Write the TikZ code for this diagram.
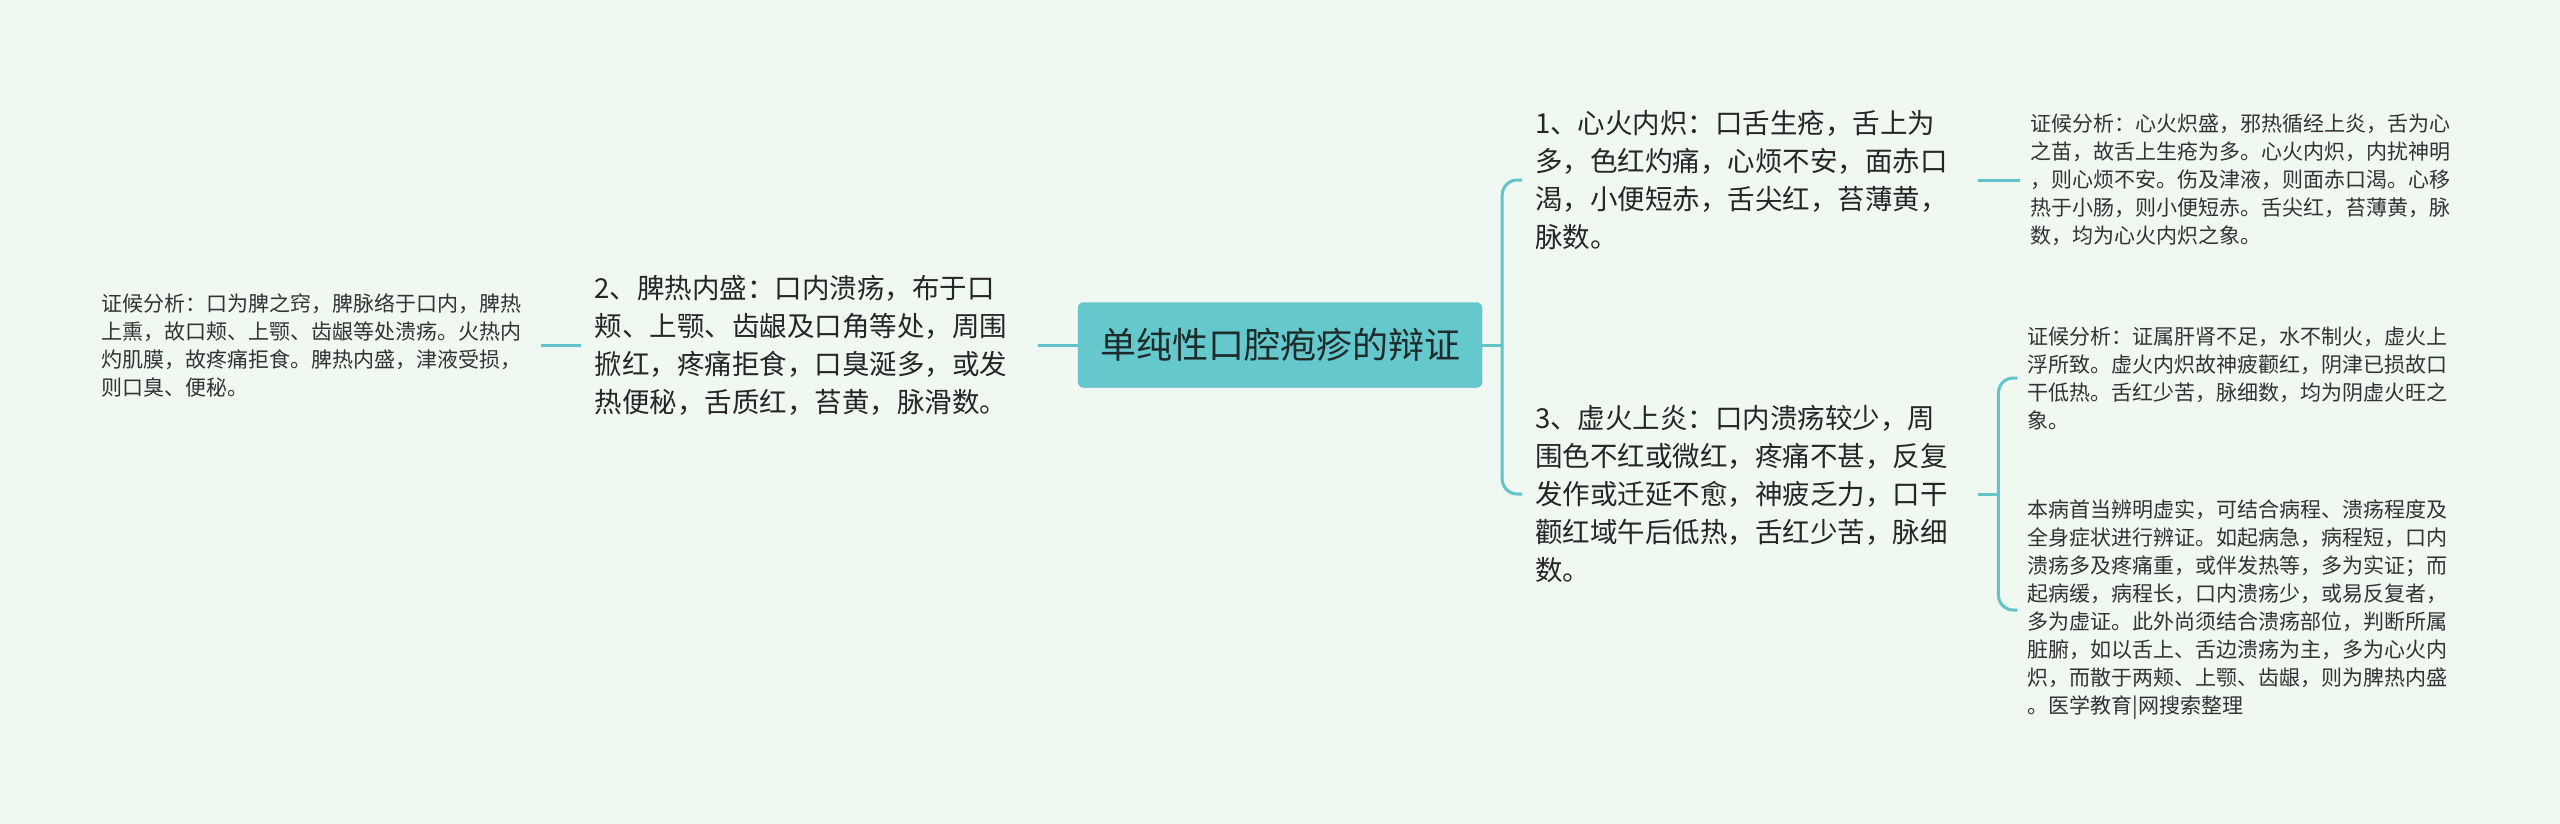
\documentclass[tikz,border=0pt]{standalone}
\usepackage{fontspec}
\setmainfont{Noto Sans CJK SC}
\usepackage{xcolor}
\usetikzlibrary{positioning}

\definecolor{bgmint}{HTML}{EFF8F1}
\definecolor{teal}{HTML}{64C8CC}
\definecolor{tealline}{HTML}{62C4C9}
\definecolor{inkdark}{HTML}{1E2B2B}
\definecolor{inkgray}{HTML}{333333}

\begin{document}
\begin{tikzpicture}[
    x=1pt, y=-1pt,
    node distance=40pt,
    topic/.style={fill=teal, draw=teal!92!black, rounded corners=6pt,
                  minimum width=404pt, minimum height=85pt, text=inkdark,
                  font=\fontsize{36}{44}\selectfont},
    branch/.style={align=left, text width=430pt, inner xsep=13pt,
                   text=black!85, font=\fontsize{27.5}{38}\selectfont},
    leaf/.style={align=left, text width=430pt, inner xsep=10pt,
                 text=inkgray, font=\fontsize{21}{28}\selectfont},
    link/.style={draw=tealline, line width=3pt}
]

\useasboundingbox[fill=bgmint] (0,0) rectangle (2560,824);

\node[topic] (root) at (1280,345) {单纯性口腔疱疹的辩证};

% left side
\node[branch, left=of root] (b2)
    {2、脾热内盛：口内溃疡，布于口\\
     颊、上颚、齿龈及口角等处，周围\\
     掀红，疼痛拒食，口臭涎多，或发\\
     热便秘，舌质红，苔黄，脉滑数。};

\node[leaf, left=of b2] (l2)
    {证候分析：口为脾之窍，脾脉络于口内，脾热\\
     上熏，故口颊、上颚、齿龈等处溃疡。火热内\\
     灼肌膜，故疼痛拒食。脾热内盛，津液受损，\\
     则口臭、便秘。};

% right side
\node[branch, anchor=west] (b1) at (1522,180)
    {1、心火内炽：口舌生疮，舌上为\\
     多，色红灼痛，心烦不安，面赤口\\
     渴，小便短赤，舌尖红，苔薄黄，\\
     脉数。};

\node[branch, anchor=west] (b3) at (1522,494)
    {3、虚火上炎：口内溃疡较少，周\\
     围色不红或微红，疼痛不甚，反复\\
     发作或迁延不愈，神疲乏力，口干\\
     颧红域午后低热，舌红少苦，脉细\\
     数。};

\node[leaf, right=42pt of b1] (l1)
    {证候分析：心火炽盛，邪热循经上炎，舌为心\\
     之苗，故舌上生疮为多。心火内炽，内扰神明\\
     ，则心烦不安。伤及津液，则面赤口渴。心移\\
     热于小肠，则小便短赤。舌尖红，苔薄黄，脉\\
     数，均为心火内炽之象。};

\node[leaf, right=39pt of b3, yshift=116pt] (l3a)
    {证候分析：证属肝肾不足，水不制火，虚火上\\
     浮所致。虚火内炽故神疲颧红，阴津已损故口\\
     干低热。舌红少苦，脉细数，均为阴虚火旺之\\
     象。};

\node[leaf, right=39pt of b3, yshift=-116pt] (l3b)
    {本病首当辨明虚实，可结合病程、溃疡程度及\\
     全身症状进行辨证。如起病急，病程短，口内\\
     溃疡多及疼痛重，或伴发热等，多为实证；而\\
     起病缓，病程长，口内溃疡少，或易反复者，\\
     多为虚证。此外尚须结合溃疡部位，判断所属\\
     脏腑，如以舌上、舌边溃疡为主，多为心火内\\
     炽，而散于两颊、上颚、齿龈，则为脾热内盛\\
     。医学教育|网搜索整理};

% connectors
\draw[link] (root) -- (b2);
\draw[link] (b2) -- (l2);

\coordinate (fork) at ([xshift=20pt]root.east);
\draw[link] (root) -- (fork);
\draw[link, rounded corners=15pt] (fork) |- (b1.west);
\draw[link, rounded corners=15pt] (fork) |- (b3.west);
\draw[link] (b1) -- (l1);

\coordinate (fork3) at ([xshift=20pt]b3.east);
\draw[link] (b3) -- (fork3);
\draw[link, rounded corners=15pt] (fork3) |- (l3a.west);
\draw[link, rounded corners=15pt] (fork3) |- (l3b.west);

\end{tikzpicture}
\end{document}
